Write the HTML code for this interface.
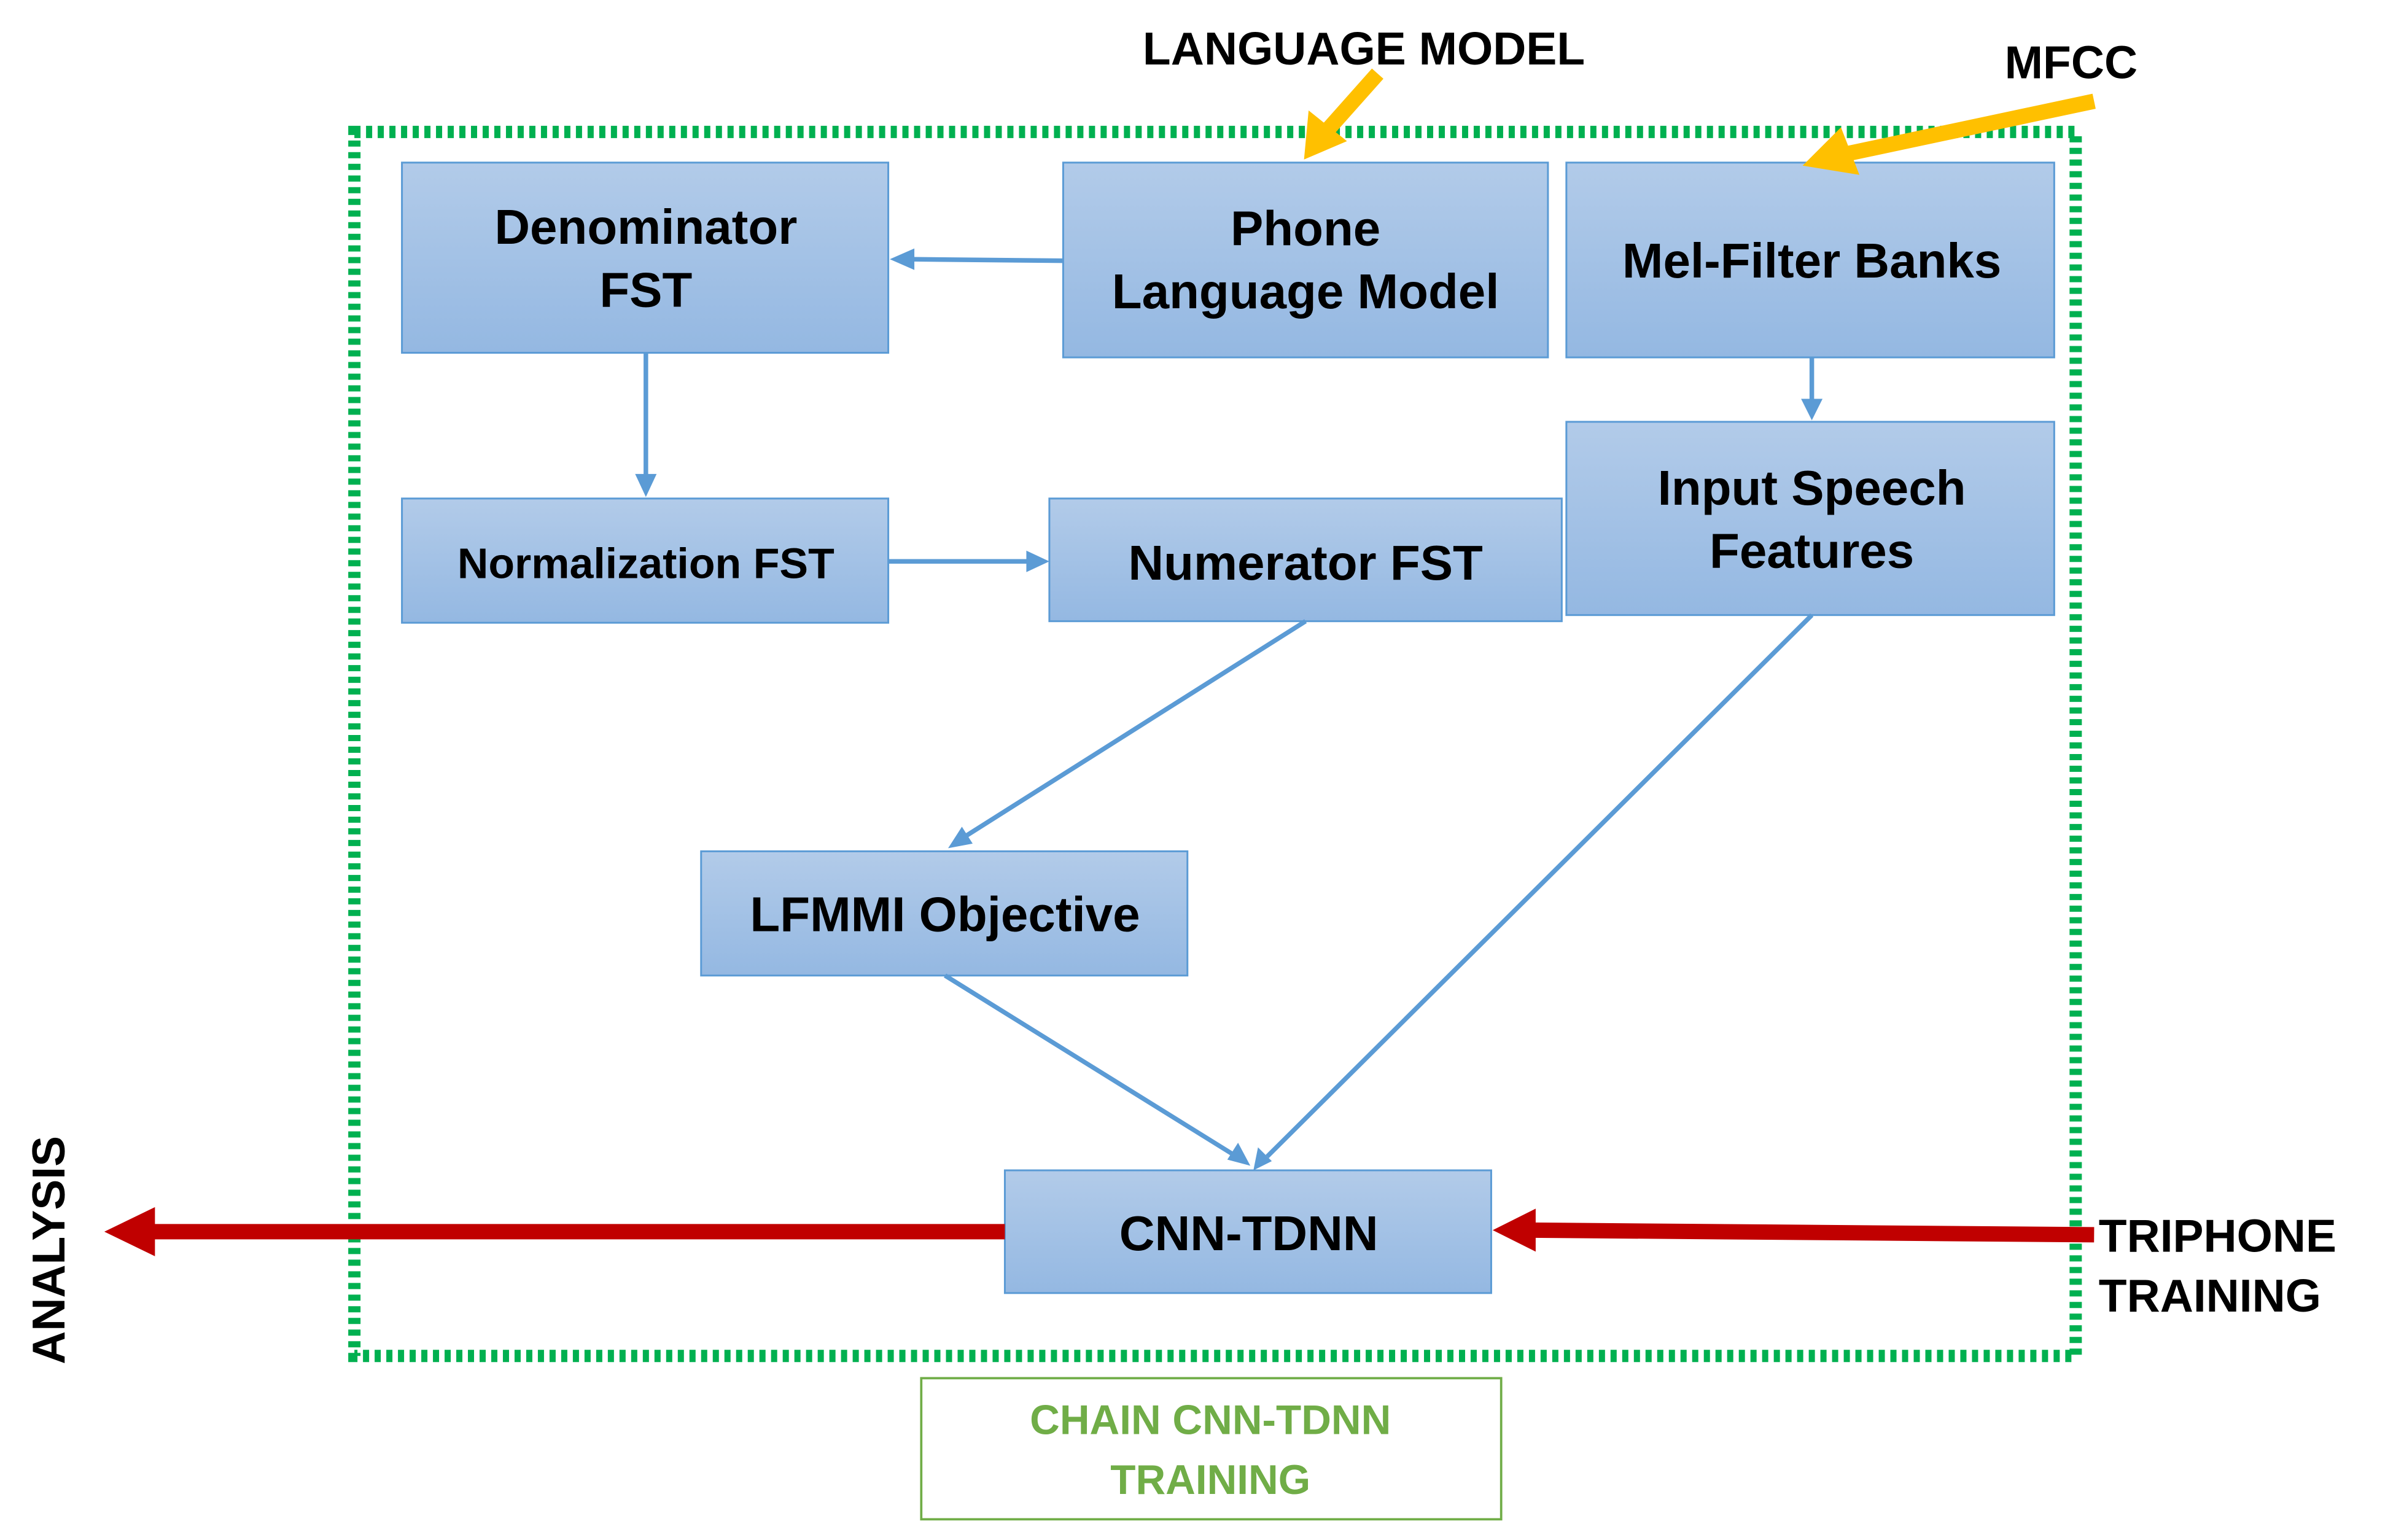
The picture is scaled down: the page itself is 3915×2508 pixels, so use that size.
<!DOCTYPE html>
<html><head><meta charset="utf-8"><style>
html,body{margin:0;padding:0;background:#fff;}
svg{display:block;}
text{font-family:"Liberation Sans",sans-serif;font-weight:bold;}
</style></head><body>
<svg width="3915" height="2508" viewBox="0 0 1567 1004" preserveAspectRatio="none" xmlns="http://www.w3.org/2000/svg">
<defs>
<linearGradient id="g" x1="0" y1="0" x2="0" y2="1">
<stop offset="0" stop-color="#b2cbe9"/><stop offset="1" stop-color="#94b8e2"/>
</linearGradient>
</defs>
<rect x="231" y="86" width="1122" height="798" fill="none" stroke="#00b050" stroke-width="8" stroke-dasharray="4 3.6"/>
<g stroke="#5b9bd5" stroke-width="1.2" fill="url(#g)">
<rect x="262" y="106" width="317" height="124"/>
<rect x="693" y="106" width="316" height="127"/>
<rect x="1021" y="106" width="318" height="127"/>
<rect x="262" y="325" width="317" height="81"/>
<rect x="684" y="325" width="334" height="80"/>
<rect x="1021" y="275" width="318" height="126"/>
<rect x="457" y="555" width="317" height="81"/>
<rect x="655" y="763" width="317" height="80"/>
</g>
<g stroke="#5b9bd5" stroke-width="3" fill="none">
<line x1="693" y1="170" x2="592" y2="169"/>
<line x1="421" y1="230" x2="421" y2="312"/>
<line x1="579" y1="366" x2="672" y2="366"/>
<line x1="1181" y1="233" x2="1181" y2="262"/>
<line x1="851" y1="405" x2="628" y2="546"/>
<line x1="616" y1="636" x2="806" y2="754"/>
<line x1="1181" y1="401" x2="826" y2="754"/>
</g>
<g fill="#5b9bd5">
<polygon points="580,169 596,162 596,176"/>
<polygon points="421,324 414,309 428,309"/>
<polygon points="684,366 669,359 669,373"/>
<polygon points="1181,274 1174,260 1188,260"/>
<polygon points="618,553 627,539 634,550"/>
<polygon points="815,760 800,756 807,745"/>
<polygon points="817,763 820,748 829,757"/>
</g>
<g stroke="#c00000" stroke-width="10" fill="#c00000">
<line x1="655" y1="803" x2="95" y2="803"/>
<line x1="1365" y1="805" x2="998" y2="802"/>
</g>
<polygon points="68,803 101,787 101,819" fill="#c00000"/>
<polygon points="973,802 1001,788 1001,816" fill="#c00000"/>
<g stroke="#ffc000" stroke-width="10">
<line x1="898" y1="48" x2="866" y2="84"/>
<line x1="1365" y1="66" x2="1205" y2="100"/>
</g>
<polygon points="850,104 853,72 878,92" fill="#ffc000"/>
<polygon points="1175,108 1200,83 1212,114" fill="#ffc000"/>
<g font-size="32" text-anchor="middle" fill="#000">
<text x="421" y="159">Denominator</text>
<text x="421" y="200">FST</text>
<text x="851" y="160">Phone</text>
<text x="851" y="201">Language Model</text>
<text x="1181" y="181">Mel-Filter Banks</text>
<text x="1181" y="329">Input Speech</text>
<text x="1181" y="370">Features</text>
<text x="421" y="377" font-size="28">Normalization FST</text>
<text x="851" y="378">Numerator FST</text>
<text x="616" y="607">LFMMI Objective</text>
<text x="814" y="815">CNN-TDNN</text>
<text x="889" y="42" font-size="30">LANGUAGE MODEL</text>
<text x="1350" y="51" font-size="30">MFCC</text>
</g>
<g font-size="30" fill="#000">
<text x="1368" y="816">TRIPHONE</text>
<text x="1368" y="855">TRAINING</text>
<text transform="translate(42,815) rotate(-90)" text-anchor="middle">ANALYSIS</text>
</g>
<rect x="600.5" y="898.5" width="378" height="92" fill="none" stroke="#70ad47" stroke-width="1.5"/>
<g font-size="27" fill="#70ad47" text-anchor="middle">
<text x="789" y="935">CHAIN CNN-TDNN</text>
<text x="789" y="974">TRAINING</text>
</g>
</svg>
</body></html>
